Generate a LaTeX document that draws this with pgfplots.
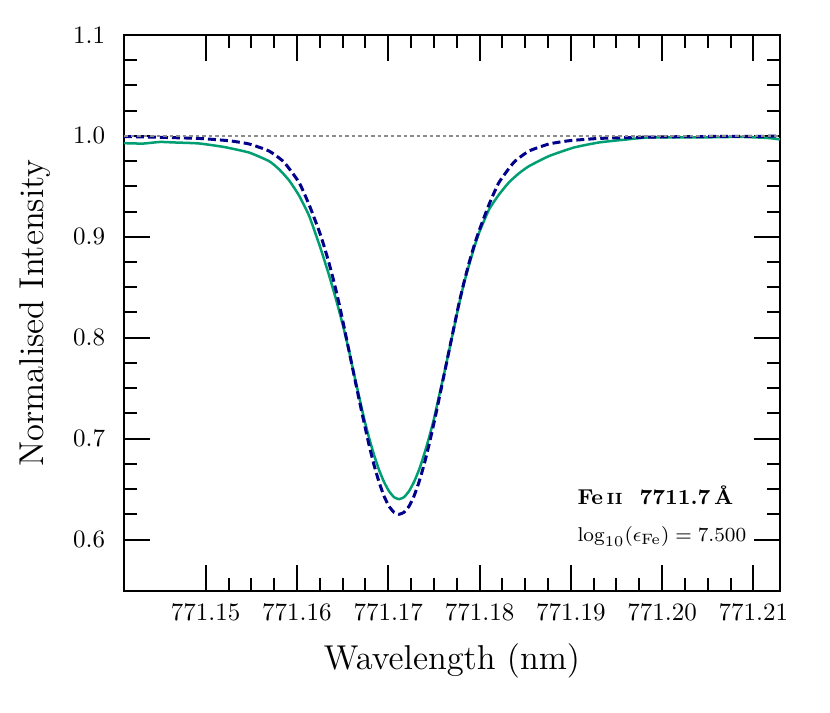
\documentclass[border=0pt]{standalone}
\usepackage{pgfplots}
\pgfplotsset{compat=1.18}
\definecolor{modelblue}{HTML}{00008B}
\definecolor{obsgreen}{HTML}{009E73}

% wavelength axis: x = (lambda - 771.1 nm) * 1000, ticks relabelled
\pgfplotstableread{
x y
41.05 0.9928
43.13 0.9924
44.99 0.9940
46.53 0.9935
49.27 0.9925
52.01 0.9890
54.75 0.9835
56.94 0.9750
58.03 0.9670
59.13 0.9560
60.22 0.9410
61.32 0.9210
62.42 0.8930
62.96 0.8780
63.51 0.8620
64.06 0.8450
64.61 0.8270
65.15 0.8080
65.70 0.7870
66.25 0.7640
66.80 0.7420
67.35 0.7200
67.89 0.7010
68.44 0.6840
68.99 0.6690
69.54 0.6570
70.08 0.6480
70.63 0.6420
71.18 0.6400
71.73 0.6420
72.28 0.6480
72.82 0.6570
73.37 0.6690
73.92 0.6840
74.47 0.7010
75.02 0.7200
75.56 0.7420
76.11 0.7640
76.66 0.7870
77.21 0.8100
77.75 0.8330
78.30 0.8540
78.85 0.8720
79.40 0.8890
79.95 0.9040
81.04 0.9270
82.14 0.9420
83.23 0.9540
84.33 0.9630
85.42 0.9700
87.61 0.9800
90.35 0.9885
93.09 0.9935
95.83 0.9962
98.57 0.9985
104.16 0.9985
108.54 0.9990
111.50 0.9980
112.92 0.9965
}\obsdata

\pgfplotstableread{
x y
41.05 0.9994
44.88 0.9986
49.27 0.9975
52.55 0.9952
54.75 0.9920
56.94 0.9850
58.58 0.9740
60.22 0.9540
61.32 0.9320
62.42 0.9060
62.96 0.8910
63.51 0.8740
64.06 0.8550
64.61 0.8340
65.15 0.8110
65.70 0.7870
66.25 0.7630
66.80 0.7390
67.35 0.7160
67.89 0.6940
68.44 0.6740
68.99 0.6570
69.54 0.6430
70.08 0.6330
70.63 0.6270
71.18 0.6250
71.73 0.6270
72.28 0.6330
72.82 0.6430
73.37 0.6570
73.92 0.6740
74.47 0.6940
75.02 0.7160
75.56 0.7390
76.11 0.7630
76.66 0.7870
77.21 0.8110
77.75 0.8340
78.30 0.8550
78.85 0.8740
79.40 0.8910
79.95 0.9060
81.04 0.9320
82.14 0.9540
83.78 0.9740
85.42 0.9850
87.61 0.9920
89.81 0.9952
93.09 0.9975
97.48 0.9986
101.86 0.9992
106.50 0.9995
112.92 0.9997
}\modeldata

\begin{document}
\begin{tikzpicture}
\begin{axis}[
    name=ax,
    scale only axis,
    width=262.4pt, height=222.4pt,
    xmin=41.05, xmax=112.92,
    ymin=0.549, ymax=1.1,
    xtick={50,60,70,80,90,100,110},
    xticklabels={771.15,771.16,771.17,771.18,771.19,771.20,771.21},
    ytick={0.6,0.7,0.8,0.9,1.0,1.1},
    minor x tick num=3,
    minor y tick num=3,
    yticklabel style={/pgf/number format/fixed, /pgf/number format/fixed zerofill,
        /pgf/number format/precision=1, xshift=-4pt},
    xticklabel style={yshift=-1.5pt},
    tick align=inside,
    major tick length=10.4pt,
    minor tick length=5.2pt,
    every tick/.style={black, line width=0.8pt},
    axis line style={line width=0.8pt},
    xlabel={Wavelength (nm)},
    ylabel={Normalised Intensity},
    label style={font=\fontsize{13.8}{16}\selectfont},
    xlabel style={at={(axis description cs:0.5,-0.142)}, anchor=base},
    ylabel style={at={(axis description cs:-0.099,0.5)}, anchor=south},
]
\addplot[obsgreen, line width=1pt, smooth, tension=0.3] table {\obsdata};
\addplot[modelblue, line width=1.2pt, dash pattern=on 3.2pt off 1.6pt, smooth, tension=0.3] table {\modeldata};
\addplot[gray!90, line width=0.6pt, dash pattern=on 1.5pt off 1.1pt] coordinates {(41.05,1) (112.92,1)};
\node[anchor=base west, inner sep=0pt, font=\fontsize{8.6}{10}\selectfont] at (axis cs:90.68,0.6346)
    {\textbf{Fe\,{\fontsize{6.5}{8}\selectfont II}\ \ 7711.7\,\AA}};
\node[anchor=base west, inner sep=0pt, font=\fontsize{8.3}{10}\selectfont] at (axis cs:90.68,0.5982)
    {$\log_{10}(\epsilon_{\mathrm{Fe}}) = 7.500$};
\end{axis}
\path ([xshift=-49.6pt,yshift=-48.4pt]ax.south west) rectangle ([xshift=20pt,yshift=14pt]ax.north east);
\end{tikzpicture}
\end{document}
